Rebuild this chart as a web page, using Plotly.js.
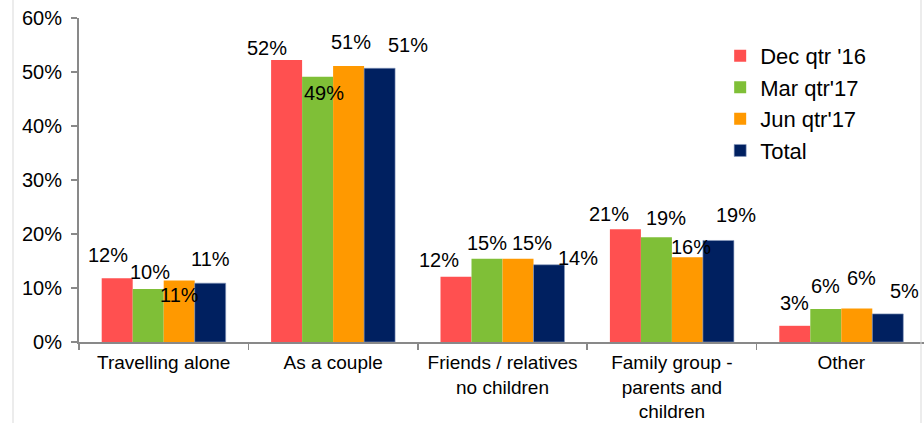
<!DOCTYPE html>
<html>
<head>
<meta charset="utf-8">
<script src="https://cdn.plot.ly/plotly-3.0.1.min.js"></script>
<style>
html,body{margin:0;padding:0;overflow:hidden;background:#fff;}
#chart{width:930px;height:423px;}
</style>
</head>
<body>
<div id="chart"></div>
<script>
// ---- data ----
const categories = ["Travelling alone", "As a couple", "Friends / relatives<br>no children", "Family group -<br>parents and<br>children", "Other"];
const seriesNames = ["Dec qtr '16", "Mar qtr'17", "Jun qtr'17", "Total"];
const decQtr16 = [11.8, 52.2, 12.1, 20.9, 3.0];
const marQtr17 = [9.8, 49.1, 15.4, 19.4, 6.1];
const junQtr17 = [11.4, 51.1, 15.4, 15.7, 6.2];
const totalVals = [10.9, 50.7, 14.3, 18.8, 5.2];
const yTickVals = [0, 10, 20, 30, 40, 50, 60];

// ---- style ----
const colors = ["#FF5050", "#7FBF37", "#FF9900", "#002060"];
const FONT = "Liberation Sans, Arial, sans-serif";
const bargap = 0.268;
// label offsets (px) per series, per category: [dx, dyUp]
const labelOffsets = [
  [[-9, 23], [-20, 12], [-17, 17], [-16, 15], [0, 23]],
  [[2, 17], [6, -16], [0, 16], [10, 19], [0, 23]],
  [[0, -15], [2, 24], [14, 16], [4, 10], [5, 31]],
  [[0, 24], [28, 23], [29, 7], [18, 25], [17, 23]]
];

const allSeries = [decQtr16, marQtr17, junQtr17, totalVals];
const traces = allSeries.map((vals, i) => ({
  type: "bar",
  name: seriesNames[i],
  x: categories,
  y: vals,
  marker: {color: colors[i], line: {width: i === 3 ? 0.6 : 0, color: "#8a9cc0"}},
  hoverinfo: "skip"
}));

const w = (1 - bargap) / 4;
const annotations = [];
allSeries.forEach((vals, i) => {
  vals.forEach((v, j) => {
    annotations.push({
      xref: "x", yref: "y",
      x: j + (i - 1.5) * w,
      y: v,
      xshift: labelOffsets[i][j][0],
      yshift: labelOffsets[i][j][1],
      text: Math.round(v) + "%",
      showarrow: false,
      font: {family: FONT, size: 20, color: "#000"},
      xanchor: "center", yanchor: "middle"
    });
  });
});

const layout = {
  width: 930, height: 423,
  margin: {l: 79, r: 4, t: 18, b: 81},
  paper_bgcolor: "#fff", plot_bgcolor: "#fff",
  bargap: bargap, bargroupgap: 0, barmode: "group",
  font: {family: FONT, size: 20, color: "#000"},
  showlegend: true,
  legend: {
    x: 0.757, y: 0.948, xanchor: "left", yanchor: "top",
    font: {family: FONT, size: 22, color: "#000"},
    bgcolor: "rgba(0,0,0,0)", tracegroupgap: 0, itemclick: false
  },
  xaxis: {
    type: "category",
    showline: true, linecolor: "#898989", linewidth: 2,
    ticks: "outside", tickson: "boundaries", ticklen: 6, tickcolor: "#898989", tickwidth: 1.5,
    ticklabelstandoff: 2,
    tickfont: {family: FONT, size: 19, color: "#000"},
    showgrid: false, zeroline: false, fixedrange: true
  },
  yaxis: {
    range: [0, 60],
    tickvals: yTickVals,
    ticktext: yTickVals.map(v => v + "%"),
    showline: true, linecolor: "#898989", linewidth: 2,
    ticks: "outside", ticklen: 6, tickcolor: "#898989", tickwidth: 1.5,
    ticklabelstandoff: 5,
    tickfont: {family: FONT, size: 20, color: "#000"},
    showgrid: false, zeroline: false, fixedrange: true
  },
  annotations: annotations,
  shapes: [
    {type: "line", xref: "paper", yref: "paper", x0: -66/847, x1: -66/847, y0: -81/324, y1: 18/324 + 1, line: {color: "#d9d9d9", width: 1}},
    {type: "line", xref: "paper", yref: "paper", x0: 842/847, x1: 842/847, y0: -81/324, y1: 18/324 + 1, line: {color: "#d9d9d9", width: 1}}
  ]
};

Plotly.newPlot("chart", traces, layout, {displayModeBar: false, staticPlot: true});
</script>
</body>
</html>
